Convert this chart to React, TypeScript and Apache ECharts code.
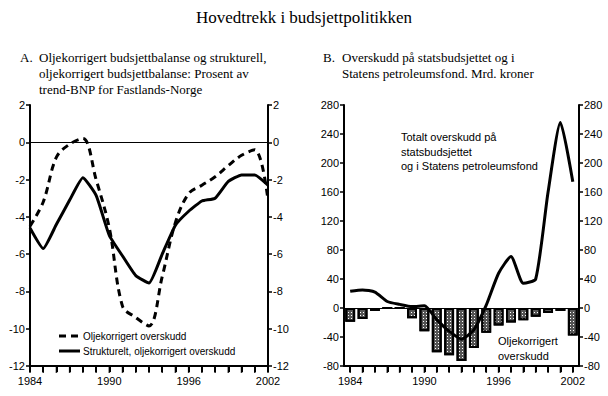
import React, { useEffect, useRef } from "react";
import * as echarts from "echarts";

const years = ["1984","1985","1986","1987","1988","1989","1990","1991","1992","1993","1994","1995","1996","1997","1998","1999","2000","2001","2002"];
const oljekorrigert = [-4.5, -3.2, -0.8, -0.1, 0.2, -2.0, -4.6, -8.8, -9.4, -9.85, -7.2, -4.3, -2.75, -2.3, -1.85, -1.25, -0.7, -0.4, -3.1];
const strukturelt = [-4.6, -5.7, -4.4, -3.1, -1.9, -2.85, -5.0, -6.1, -7.15, -7.55, -6.0, -4.45, -3.7, -3.15, -3.0, -2.1, -1.75, -1.75, -2.3];
const oljeBars = [-19, -15, -4, 0, 0, -14, -32, -61, -65, -73, -55, -34, -24, -20, -17, -12, -7, -4, -38];
const totalt = [23, 25, 22, 9, 5, 2, 3, -16, -32, -43, -30, 4, 48, 71, 34, 40, 160, 256, 174];
const shownYears = ["1984", "1990", "1996", "2002"];
const leftMin = -12;
const rightMin = -80;

const serif = "'Liberation Serif', 'DejaVu Serif', serif";
const sans = "'Liberation Sans Narrow', 'Liberation Sans', Arial, sans-serif";

export default function App() {
  const ref = useRef<HTMLDivElement>(null);
  useEffect(() => {
    document.body.style.margin = "0";
    const chart = echarts.init(ref.current!, undefined, { renderer: "svg" });
    const xAxisCommon = (grid: number, boundaryGap: boolean) => ({
      type: "category",
      gridIndex: grid,
      data: years,
      boundaryGap,
      axisLine: { onZero: false, lineStyle: { color: "#000", width: 2 } },
      axisTick: { show: true, length: 6, alignWithLabel: true, lineStyle: { color: "#000", width: 2 } },
      axisLabel: {
        color: "#000", fontFamily: sans, fontSize: 11, margin: 9,
        interval: 0,
        formatter: (v: string) => (shownYears.includes(v) ? v : ""),
      },
    });
    const yAxisCommon = (grid: number, pos: string, min: number, max: number, interval: number) => ({
      type: "value", gridIndex: grid, position: pos, min, max, interval,
      axisLine: { show: true, onZero: false, lineStyle: { color: "#000", width: 2 } },
      axisTick: { show: true, length: 4, lineStyle: { color: "#000", width: 1.5 } },
      axisLabel: { color: "#000", fontFamily: sans, fontSize: 11, margin: 5 },
      splitLine: { show: false },
    });
    const zeroLine = () => ({
      silent: true, symbol: "none", label: { show: false },
      lineStyle: { color: "#000", width: 1, type: "solid" },
      data: [{ yAxis: 0 }],
    });
    const tickSeries = (xi: number, yi: number, min: number) => ({
      type: "scatter", xAxisIndex: xi, yAxisIndex: yi, silent: true, clip: false, z: 10,
      data: years.map((y) => [y, min]),
      symbol: "rect", symbolSize: [1.6, 6], symbolOffset: [0, 4],
      itemStyle: { color: "#000" },
    });
    chart.setOption({
      animation: false,
      backgroundColor: "#fff",
      grid: [
        { left: 30, right: 340, top: 105, bottom: 30 },
        { left: 344, right: 29, top: 105, bottom: 30 },
      ],
      xAxis: [xAxisCommon(0, false), xAxisCommon(1, true)],
      yAxis: [
        yAxisCommon(0, "left", leftMin, 2, 2),
        yAxisCommon(0, "right", leftMin, 2, 2),
        yAxisCommon(1, "left", rightMin, 280, 40),
        yAxisCommon(1, "right", rightMin, 280, 40),
      ],
      series: [
        {
          name: "Oljekorrigert overskudd", type: "line", xAxisIndex: 0, yAxisIndex: 0,
          data: oljekorrigert, smooth: 0.35, symbol: "none",
          lineStyle: { color: "#000", width: 3, type: [7, 5] },
          markLine: zeroLine(),
        },
        {
          name: "Strukturelt, oljekorrigert overskudd", type: "line", xAxisIndex: 0, yAxisIndex: 0,
          data: strukturelt, smooth: 0.15, symbol: "none",
          lineStyle: { color: "#000", width: 3 },
        },
        {
          name: "Oljekorrigert overskudd B", type: "bar", xAxisIndex: 1, yAxisIndex: 2,
          data: oljeBars, barWidth: "80%",
          itemStyle: {
            color: "#555", borderColor: "#000", borderWidth: 2,
            decal: { symbol: "rect", symbolSize: 1, dashArrayX: [1, 2], dashArrayY: [1, 2], color: "#fff" },
          },
          markLine: zeroLine(),
        },
        {
          name: "Totalt overskudd", type: "line", xAxisIndex: 1, yAxisIndex: 2,
          data: totalt, smooth: 0.2, symbol: "none", z: 5,
          lineStyle: { color: "#000", width: 3 },
        },
        tickSeries(0, 0, leftMin),
        tickSeries(1, 2, rightMin),
      ],
      graphic: [
        { type: "text", x: 304, y: 17, style: { text: "Hovedtrekk i budsjettpolitikken", fontFamily: serif, fontSize: 17, fill: "#000", align: "center", verticalAlign: "middle" } },
        { type: "text", x: 20, y: 57, style: { text: "A.", fontFamily: serif, fontSize: 13, fill: "#000", verticalAlign: "middle" } },
        { type: "text", x: 39, y: 57, style: { text: "Oljekorrigert budsjettbalanse og strukturell,", fontFamily: serif, fontSize: 13, fill: "#000", verticalAlign: "middle" } },
        { type: "text", x: 39, y: 73, style: { text: "oljekorrigert budsjettbalanse: Prosent av", fontFamily: serif, fontSize: 13, fill: "#000", verticalAlign: "middle" } },
        { type: "text", x: 39, y: 89, style: { text: "trend-BNP for Fastlands-Norge", fontFamily: serif, fontSize: 13, fill: "#000", verticalAlign: "middle" } },
        { type: "text", x: 323, y: 57, style: { text: "B.", fontFamily: serif, fontSize: 13, fill: "#000", verticalAlign: "middle" } },
        { type: "text", x: 342, y: 57, style: { text: "Overskudd på statsbudsjettet og i", fontFamily: serif, fontSize: 13, fill: "#000", verticalAlign: "middle" } },
        { type: "text", x: 342, y: 73, style: { text: "Statens petroleumsfond. Mrd. kroner", fontFamily: serif, fontSize: 13, fill: "#000", verticalAlign: "middle" } },
        { type: "line", shape: { x1: 59, y1: 336, x2: 80, y2: 336 }, style: { stroke: "#000", lineWidth: 3, lineDash: [7, 5] } },
        { type: "text", x: 83, y: 336, style: { text: "Oljekorrigert overskudd", fontFamily: sans, fontSize: 10, fill: "#000", verticalAlign: "middle" } },
        { type: "line", shape: { x1: 59, y1: 351, x2: 80, y2: 351 }, style: { stroke: "#000", lineWidth: 3 } },
        { type: "text", x: 83, y: 351, style: { text: "Strukturelt, oljekorrigert overskudd", fontFamily: sans, fontSize: 10, fill: "#000", verticalAlign: "middle" } },
        { type: "text", x: 401, y: 137, style: { text: "Totalt overskudd på", fontFamily: sans, fontSize: 11, fill: "#000", verticalAlign: "middle" } },
        { type: "text", x: 401, y: 152, style: { text: "statsbudsjettet", fontFamily: sans, fontSize: 11, fill: "#000", verticalAlign: "middle" } },
        { type: "text", x: 401, y: 166, style: { text: "og i Statens petroleumsfond", fontFamily: sans, fontSize: 11, fill: "#000", verticalAlign: "middle" } },
        { type: "text", x: 498, y: 341, style: { text: "Oljekorrigert", fontFamily: sans, fontSize: 11, fill: "#000", verticalAlign: "middle" } },
        { type: "text", x: 498, y: 356, style: { text: "overskudd", fontFamily: sans, fontSize: 11, fill: "#000", verticalAlign: "middle" } },
      ],
    });
    return () => chart.dispose();
  }, []);
  return <div ref={ref} style={{ width: 608, height: 396 }} />;
}
